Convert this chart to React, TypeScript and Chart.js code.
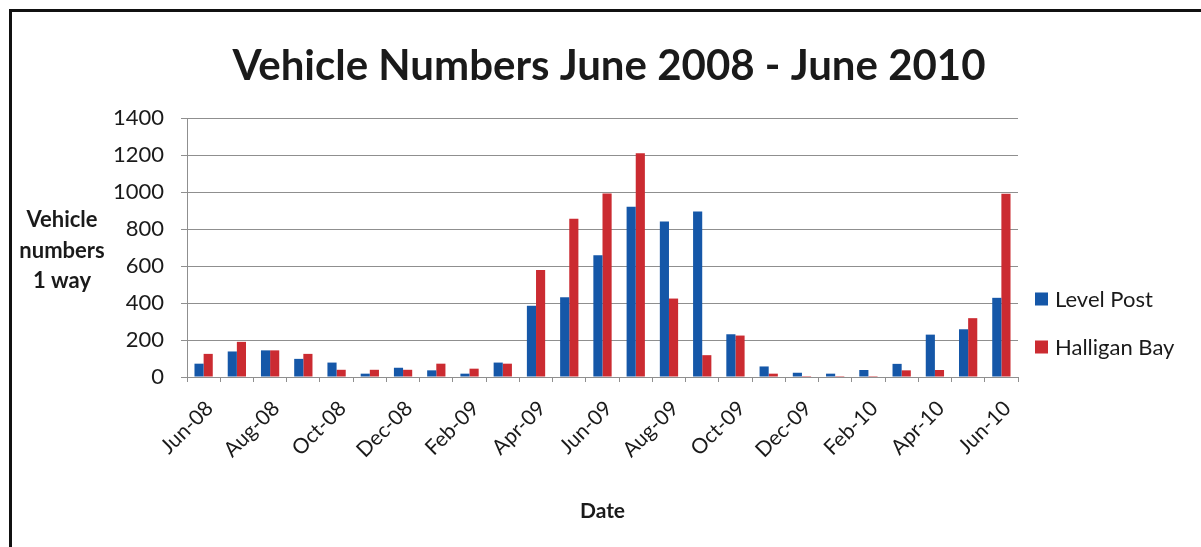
import { useEffect, useRef } from 'react';
import { Chart, registerables } from 'chart.js';

Chart.register(...registerables);

const months = [
  'Jun-08', 'Jul-08', 'Aug-08', 'Sep-08', 'Oct-08', 'Nov-08', 'Dec-08',
  'Jan-09', 'Feb-09', 'Mar-09', 'Apr-09', 'May-09', 'Jun-09', 'Jul-09',
  'Aug-09', 'Sep-09', 'Oct-09', 'Nov-09', 'Dec-09', 'Jan-10', 'Feb-10',
  'Mar-10', 'Apr-10', 'May-10', 'Jun-10',
];
const levelPost = [72, 138, 144, 98, 78, 18, 50, 36, 18, 78, 385, 431, 658, 920, 840, 895, 231, 57, 23, 18, 38, 71, 229, 258, 428];
const halliganBay = [125, 190, 144, 125, 39, 39, 39, 72, 45, 72, 578, 855, 992, 1210, 424, 118, 224, 18, 5, 5, 5, 36, 38, 318, 990];
const seriesNames = ['Level Post', 'Halligan Bay'];
const seriesColors = ['#1557A8', '#CB2B31'];
const chartTitle = 'Vehicle Numbers June 2008 - June 2010';
const yTitleLines = ['Vehicle', 'numbers', '1 way'];
const xTitle = 'Date';
const yMin = 0;
const yMax = 1400;
const yStep = 200;

const FONT = 'Lato, "Open Sans", sans-serif';
const TEXT = '#1a1a1a';
const GRID = '#8f8f8f';

const extrasPlugin = {
  id: 'extras',
  afterDraw(chart: any) {
    const ctx = chart.ctx;
    ctx.save();
    ctx.fillStyle = TEXT;
    // Title
    ctx.font = `bold 42px ${FONT}`;
    ctx.textAlign = 'center';
    ctx.textBaseline = 'alphabetic';
    ctx.fillText(chartTitle, 609, 80);
    // Y axis title (horizontal, 3 lines)
    ctx.font = `bold 22px ${FONT}`;
    const yBase = [227, 258, 288];
    yTitleLines.forEach((t, i) => ctx.fillText(t, 62, yBase[i]));
    // Legend
    ctx.textAlign = 'left';
    ctx.font = `22px ${FONT}`;
    const legY = [299, 347];
    chart.data.datasets.forEach((ds: any, i: number) => {
      ctx.fillStyle = ds.backgroundColor;
      ctx.fillRect(1035, legY[i] - 6.5, 13, 13);
      ctx.fillStyle = TEXT;
      ctx.fillText(ds.label, 1055, legY[i] + 8);
    });
    ctx.restore();
  },
};

export default function App() {
  const ref = useRef<HTMLCanvasElement | null>(null);

  useEffect(() => {
    if (!ref.current) return;
    const chart = new Chart(ref.current, {
      type: 'bar',
      data: {
        labels: months,
        datasets: [
          {
            label: seriesNames[0],
            data: levelPost,
            backgroundColor: seriesColors[0],
            borderWidth: 0,
            categoryPercentage: 0.55,
            barPercentage: 1.0,
          },
          {
            label: seriesNames[1],
            data: halliganBay,
            backgroundColor: seriesColors[1],
            borderWidth: 0,
            categoryPercentage: 0.55,
            barPercentage: 1.0,
          },
        ],
      },
      options: {
        responsive: false,
        animation: false,
        devicePixelRatio: 1,
        layout: { padding: { left: 0, right: 183, top: 118, bottom: 0 } },
        plugins: {
          legend: { display: false },
          title: { display: false },
          tooltip: { enabled: false },
        },
        scales: {
          x: {
            afterFit: (s: any) => { s.height = 170; },
            grid: {
              display: true,
              drawOnChartArea: false,
              drawTicks: true,
              tickLength: 5,
              color: GRID,
              offset: true,
            },
            border: { color: GRID },
            ticks: {
              autoSkip: false,
              minRotation: 45,
              maxRotation: 45,
              color: TEXT,
              font: { family: FONT, size: 21 },
              padding: 14,
              labelOffset: 6,
              callback: (_v: any, i: number) => (i % 2 === 0 ? months[i] : ''),
            },
            title: {
              display: true,
              text: xTitle,
              color: TEXT,
              font: { family: FONT, size: 21, weight: 'bold' },
              padding: { top: 0, bottom: 23 },
            },
          },
          y: {
            min: yMin,
            max: yMax,
            afterFit: (s: any) => { s.width = 187; },
            grid: { color: GRID, tickLength: 6, lineWidth: 1 },
            border: { color: GRID },
            ticks: {
              stepSize: yStep,
              color: TEXT,
              font: { family: FONT, size: 22 },
              padding: 17,
              callback: (v: any) => String(v),
            },
          },
        },
      },
      plugins: [extrasPlugin],
    } as any);
    return () => chart.destroy();
  }, []);

  return (
    <div style={{ position: 'absolute', left: 0, top: 0, width: 1201, height: 547, background: '#fff', overflow: 'hidden' }}>
      <canvas ref={ref} width={1201} height={547} style={{ display: 'block', position: 'absolute', left: 0, top: 0 }} />
      <div style={{ position: 'absolute', left: 9, top: 9, width: 1192, height: 538, borderTop: '3px solid #111', borderLeft: '3px solid #111', boxSizing: 'border-box', pointerEvents: 'none' }} />
    </div>
  );
}
